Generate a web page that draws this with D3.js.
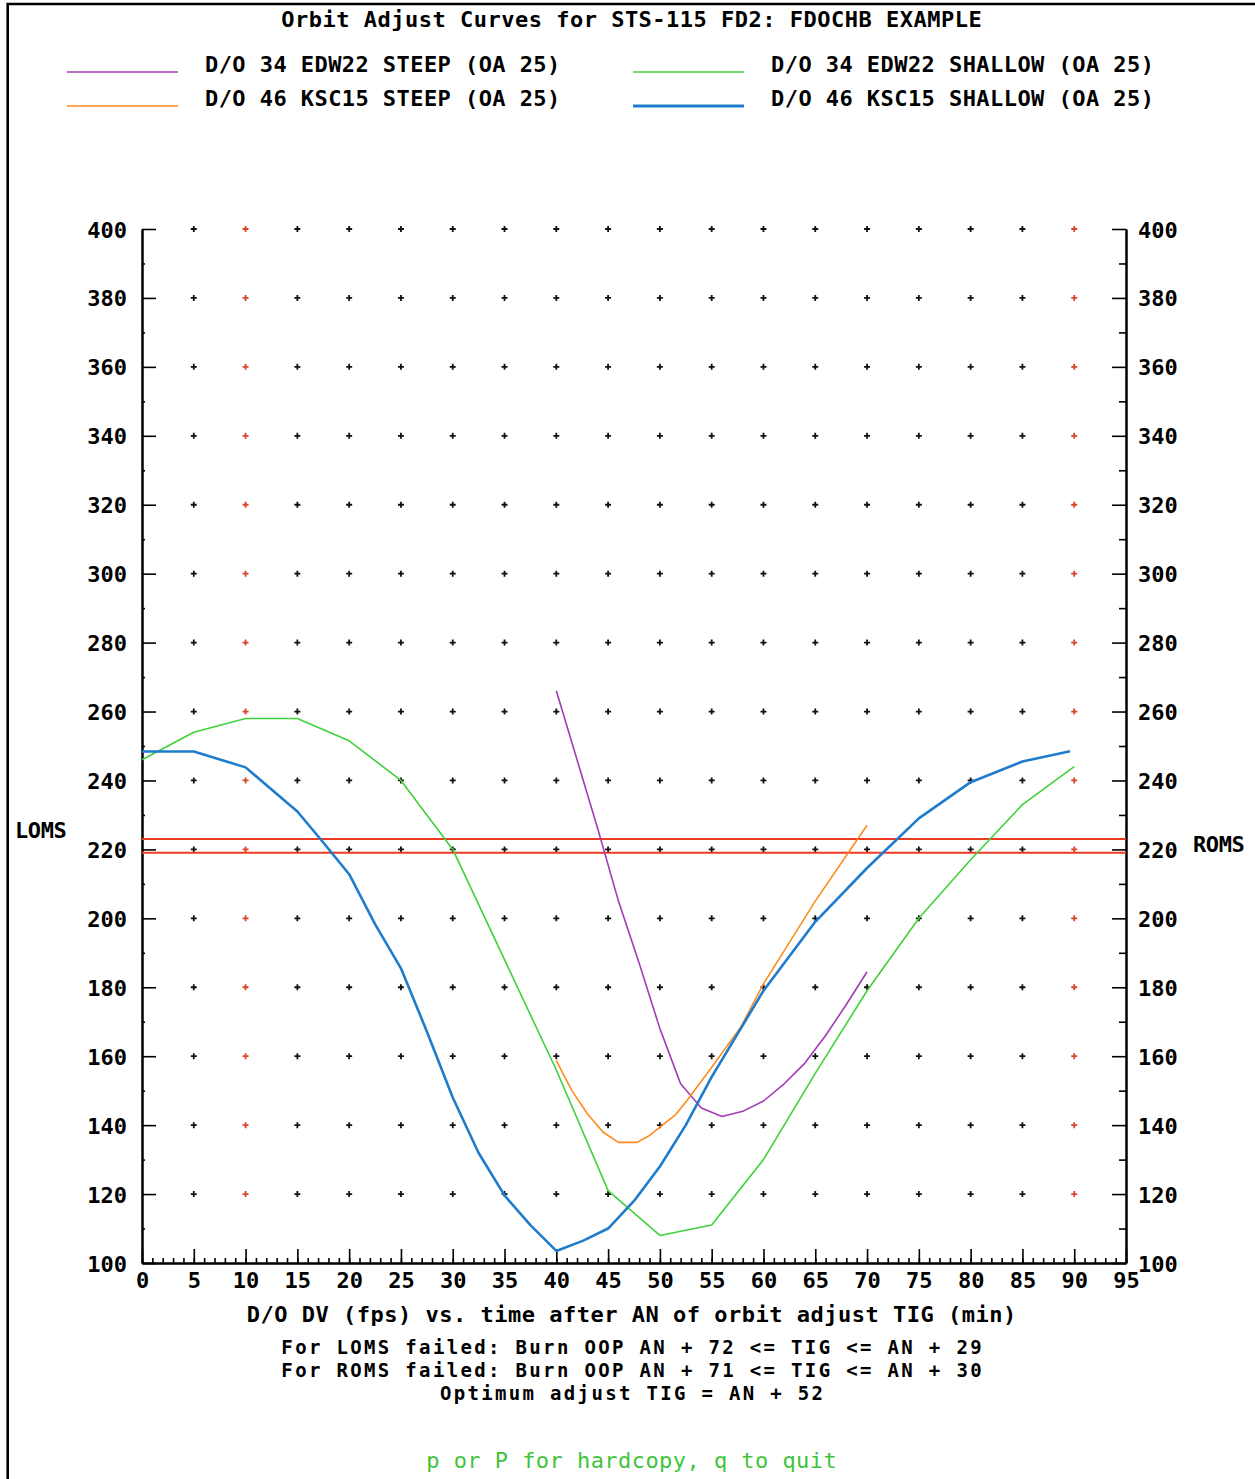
<!DOCTYPE html>
<html><head><meta charset="utf-8">
<script src="https://cdn.jsdelivr.net/npm/d3@7"></script>
<style>
html,body{margin:0;padding:0;background:#fff;}
text{font-family:'DejaVu Sans Mono',monospace;font-weight:bold;font-size:22px;fill:#000;}
</style></head>
<body>
<svg id="c" width="1255" height="1479"></svg>
<script>
// ---- data ----
const titleText = "Orbit Adjust Curves for STS-115 FD2: FDOCHB EXAMPLE";
const seriesNames = ["D/O 34 EDW22 STEEP (OA 25)", "D/O 46 KSC15 STEEP (OA 25)",
                     "D/O 34 EDW22 SHALLOW (OA 25)", "D/O 46 KSC15 SHALLOW (OA 25)"];
const xTicksMajor = [0,5,10,15,20,25,30,35,40,45,50,55,60,65,70,75,80,85,90,95];
const yTicksMajor = [100,120,140,160,180,200,220,240,260,280,300,320,340,360,380,400];
const yTicksMinor = [110,130,150,170,190,210,230,250,270,290,310,330,350,370,390];

const edwSteepX = [40,42,44,46,48,50,52,54,56,58,60,62,64,66,68,70];
const edwSteepY = [266,246,226,205,187,168,152,145,142.5,144,147,152,158,166,175,184.5];

const kscSteepX = [40,41.5,43,44.5,46,47.8,49,50,51.5,52.6,55,57.8,60,65,70];
const kscSteepY = [158.7,150,143.3,138,135,135,137,139.4,143,147.1,156.8,168.4,181,205,227];

const edwShallowX = [0,5,10,15,20,25,30,35,40,45,50,55,60,65,70,75,80,85,90];
const edwShallowY = [246,254,258,258,251.5,240,220,188,156,121,108,111,130,155,179,200,217,233,244];

const kscShallowX = [0,5,10,15,17.5,20,22.5,25,27.5,30,32.5,35,37.5,40,42.6,45,47.5,50,52.5,55,57.5,60,65,70,75,80,85,89.6];
const kscShallowY = [248.4,248.4,243.8,231,222,212.8,198.3,185.5,167.2,148,131.9,119.6,111,103.5,106.5,110,118,128,140,154,166.5,179,199,214.6,229,239.5,245.5,248.5];

const limitLines = [223, 219];
const footLines = ["D/O DV (fps) vs. time after AN of orbit adjust TIG (min)",
  "For LOMS failed: Burn OOP AN + 72 <= TIG <= AN + 29",
  "For ROMS failed: Burn OOP AN + 71 <= TIG <= AN + 30",
  "Optimum adjust TIG = AN + 52"];
const hintText = "p or P for hardcopy, q to quit";

// ---- drawing ----
const svg = d3.select("#c");
const PITCH = 13.8;
function txt(g, s, x, y, anchor, fill){
  const t = g.append("text").attr("x", x).attr("y", y).text(s)
    .attr("text-anchor", anchor || "start")
    .attr("textLength", s.length*PITCH - 3.5).attr("lengthAdjust","spacing");
  if (fill) t.style("fill", fill);
  return t;
}

// frame
svg.append("path").attr("d","M7.7,1479V4H1255").attr("fill","none").attr("stroke","#000").attr("stroke-width",2.6);

const x = d3.scaleLinear().domain([0,95]).range([142,1126]);
const y = d3.scaleLinear().domain([100,400]).range([1263,229]);

// title + legend
txt(svg, titleText, 631.5, 27, "middle");
const colors = ["#a23bb5", "#ff8a1e", "#3fd23a", "#1f7ccc"];
const widths = [1.5, 1.5, 1.5, 3];
const legPos = [[67,72,205],[67,106,205],[633,72,771],[633,106,771]];
seriesNames.forEach((n,i)=>{
  const [lx, ly, tx] = legPos[i];
  svg.append("line").attr("x1",lx).attr("x2",lx+111).attr("y1",ly).attr("y2",ly)
    .attr("stroke",colors[i]).attr("stroke-width",widths[i]);
  txt(svg, n, tx, ly, "start");
});

// grid plus marks
const gridG = svg.append("g");
const gx = xTicksMajor.filter(v=>v>0 && v<95);
const gy = yTicksMajor.filter(v=>v>100);
gx.forEach(xv=>gy.forEach(yv=>{
  const red = (xv===10 || xv===90);
  gridG.append("path").attr("d",`M${x(xv)-3},${y(yv)}h6M${x(xv)},${y(yv)-3}v6`)
    .attr("stroke", red ? "#d8452a" : "#111").attr("stroke-width",1.8);
}));

// axes
const axG = svg.append("g");
const leftMaj = axG.append("g").attr("transform",`translate(${x(0)},0)`)
  .call(d3.axisLeft(y).tickValues(yTicksMajor).tickSize(-14).tickSizeOuter(0).tickPadding(15).tickFormat(d3.format("d")));
axG.append("g").attr("transform",`translate(${x(0)},0)`)
  .call(d3.axisLeft(y).tickValues(yTicksMinor).tickSize(-3).tickSizeOuter(0).tickFormat(""));
const rightMaj = axG.append("g").attr("transform",`translate(${x(95)},0)`)
  .call(d3.axisRight(y).tickValues(yTicksMajor).tickSize(-14).tickSizeOuter(0).tickPadding(12).tickFormat(d3.format("d")));
axG.append("g").attr("transform",`translate(${x(95)},0)`)
  .call(d3.axisRight(y).tickValues(yTicksMinor).tickSize(-7).tickSizeOuter(0).tickFormat(""));
const bottomMaj = axG.append("g").attr("transform",`translate(0,${y(100)})`)
  .call(d3.axisBottom(x).tickValues(xTicksMajor).tickSize(-14).tickSizeOuter(0).tickPadding(0).tickFormat(d3.format("d")));
axG.append("g").attr("transform",`translate(0,${y(100)})`)
  .call(d3.axisBottom(x).tickValues(d3.range(0,96,1)).tickSize(-5).tickSizeOuter(0).tickFormat(""));
axG.selectAll(".domain").attr("stroke","#000").attr("stroke-width",2);
axG.selectAll(".tick line").attr("stroke","#000").attr("stroke-width",1.6);
axG.selectAll("text").attr("font-family",null).attr("font-size",null).style("fill","#000");
leftMaj.selectAll("text").attr("dy",null).attr("y",8);
rightMaj.selectAll("text").attr("dy",null).attr("y",8);
bottomMaj.selectAll("text").attr("dy",null).attr("y",25);

// side labels
txt(svg, "LOMS", 15, 838, "start");
txt(svg, "ROMS", 1193, 852, "start");

// limit lines
limitLines.forEach(v=>{
  svg.append("line").attr("x1",x(0)).attr("x2",x(95)).attr("y1",y(v)).attr("y2",y(v))
    .attr("stroke","#ec3b22").attr("stroke-width",2);
});

// curves
const line = d3.line().x(d=>x(d[0])).y(d=>y(d[1]));
const series = [[edwSteepX,edwSteepY],[kscSteepX,kscSteepY],[edwShallowX,edwShallowY],[kscShallowX,kscShallowY]];
series.forEach(([xs,ys],i)=>{
  svg.append("path").datum(xs.map((v,k)=>[v,ys[k]])).attr("d",line)
    .attr("fill","none").attr("stroke",colors[i]).attr("stroke-width",widths[i]===3?2.6:1.6)
    .attr("stroke-linejoin","round");
});

// footer
const fy = [1322,1354,1377,1400];
footLines.forEach((s,i)=>{
  const t = txt(svg, s, 631.5, fy[i], "middle");
  if (i>0) t.style("font-size","19px");
});
txt(svg, hintText, 631.5, 1468, "middle", "#3fc43a").style("font-weight","normal");
</script>
</body></html>
